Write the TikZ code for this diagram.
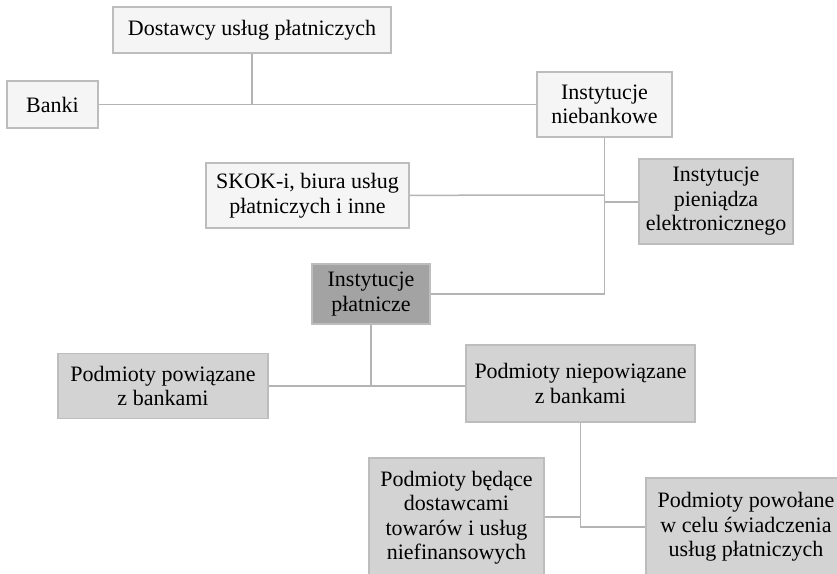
\documentclass[tikz,border=0pt]{standalone}
\usepackage{fontspec}
\setmainfont{Liberation Serif}
\definecolor{frameclr}{HTML}{BDBDBD}
\definecolor{lineclr}{HTML}{B4B4B4}
\definecolor{paleclr}{HTML}{F5F5F5}
\definecolor{midclr}{HTML}{D3D3D3}
\definecolor{darkclr}{HTML}{A3A3A3}
\tikzset{
	kind/.style={draw=frameclr, line width=1.5pt, align=center, inner sep=0pt,
		font=\fontsize{22}{24.5}\selectfont},
	pale/.style={kind, fill=paleclr},
	mid/.style={kind, fill=midclr},
	dark/.style={kind, fill=darkclr},
	link/.style={draw=lineclr, line width=1.5pt}
}

\begin{document}
\begin{tikzpicture}
	\def \hor{ 1pt };
	\def \ver{ 1pt };
	\useasboundingbox (0,0) rectangle (837*\hor,-573*\ver);
	\node[pale, minimum width=278, minimum height=46] (dost) at (252*\hor,-30*\ver) {Dostawcy usług płatniczych};
	\node[pale, minimum width=91, minimum height=47] (banki) at (52.5*\hor,-104.5*\ver) {Banki};
	\node[pale, minimum width=135, minimum height=65] (nieb) at (604.5*\hor,-104.5*\ver) {Instytucje\\niebankowe};
	\node[mid, minimum width=154, minimum height=85] (pien) at (716*\hor,-201.5*\ver) {Instytucje\\pieniądza\\elektronicznego};
	\node[pale, minimum width=203, minimum height=65] (skok) at (307.5*\hor,-195.5*\ver) {SKOK-i, biura usług\\płatniczych i inne};
	\node[dark, minimum width=118, minimum height=60] (plat) at (371*\hor,-294*\ver) {Instytucje\\płatnicze};
	\node[mid, minimum width=210, minimum height=65] (powi) at (163*\hor,-386*\ver) {Podmioty powiązane\\z bankami};
	\node[mid, minimum width=229, minimum height=77] (niepowi) at (580.5*\hor,-383.5*\ver) {Podmioty niepowiązane\\z bankami};
	\node[mid, minimum width=175, minimum height=119] (bed) at (456.5*\hor,-517.5*\ver) {Podmioty będące\\dostawcami\\towarów i usług\\niefinansowych};
	\node[mid, minimum width=200, minimum height=98] (powo) at (746*\hor,-527*\ver) {Podmioty powołane\\w celu świadczenia\\usług płatniczych};
	\coordinate (a) at (604*\hor,-195*\ver);
	\coordinate (b) at (604*\hor,-202*\ver);
	\coordinate (c) at (581*\hor,-517*\ver);
	\draw[link] (banki) -- (nieb);
	\draw[link] (dost) -- (dost |- banki);
	\draw[link] (nieb.south) -- (nieb.south |- plat);
	\draw[link] (skok) -- (a);
	\draw[link] (b) -- (b -| pien.west);
	\draw[link] (plat) -- (plat -| nieb.south);
	\draw[link] (plat.south) -- (plat.south |- powi);
	\draw[link] (powi) -- (powi -| niepowi.west);
	\draw[link] (niepowi.south) |- (powo);
	\draw[link] (bed.east |- c) -- (c);
\end{tikzpicture}
\end{document}
